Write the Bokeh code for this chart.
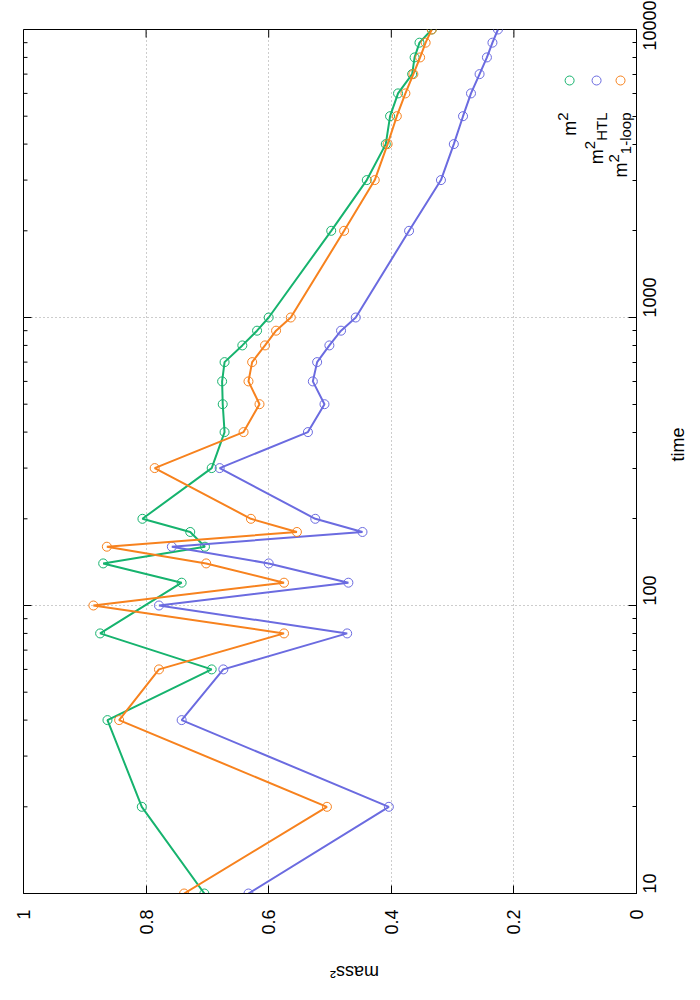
import math
from bokeh.plotting import figure
from bokeh.models import Range1d, Label, FixedTicker
from bokeh.embed import file_html
from bokeh.resources import INLINE

# ---------------- data ----------------
time_all = [10, 20, 40, 60, 80, 100, 120, 140, 160, 180, 200, 300, 400, 500, 600,
            700, 800, 900, 1000, 2000, 3000, 4000, 5000, 6000, 7000, 8000, 9000, 10000]
time_m2 = [10, 20, 40, 60, 80, 120, 140, 160, 180, 200, 300, 400, 500, 600,
           700, 800, 900, 1000, 2000, 3000, 4000, 5000, 6000, 7000, 8000, 9000, 10000]
m2 = [0.705, 0.807, 0.863, 0.693, 0.875, 0.742, 0.870, 0.704, 0.728, 0.806, 0.693,
      0.672, 0.675, 0.676, 0.672, 0.643, 0.619, 0.600, 0.498, 0.440, 0.409, 0.402,
      0.389, 0.366, 0.362, 0.354, 0.334]
m2_htl = [0.633, 0.404, 0.742, 0.674, 0.472, 0.779, 0.470, 0.600, 0.758, 0.447, 0.524,
          0.680, 0.536, 0.509, 0.528, 0.521, 0.501, 0.482, 0.458, 0.371, 0.319, 0.298,
          0.283, 0.270, 0.256, 0.244, 0.235, 0.226]
m2_1loop = [0.738, 0.505, 0.844, 0.779, 0.575, 0.886, 0.575, 0.702, 0.864, 0.554, 0.629,
            0.786, 0.641, 0.615, 0.633, 0.627, 0.606, 0.588, 0.564, 0.477, 0.427, 0.406,
            0.391, 0.377, 0.364, 0.353, 0.344, 0.334]

mass_ticks = [0, 0.2, 0.4, 0.6, 0.8, 1.0]
mass_tick_labels = ["0", "0.2", "0.4", "0.6", "0.8", "1"]
time_ticks = [10, 100, 1000, 10000]
time_tick_labels = ["10", "100", "1000", "10000"]
time_minor = [20, 30, 40, 50, 60, 70, 80, 90, 200, 300, 400, 500, 600, 700, 800, 900,
              2000, 3000, 4000, 5000, 6000, 7000, 8000, 9000]

GREEN = "#16b36e"
BLUE = "#6b6be0"
ORANGE = "#f7821e"
FONT = "Liberation Sans"
FS = "18px"

# ---------------- layout constants (canvas pixels) ----------------
W_, H_ = 700, 1000
FL, FR, FT, FB = 23, 637, 29, 893


def mx(px):
    return 1 - (px - FL) / (FR - FL)


def ty(py):
    return 10 * 10 ** ((FB - py) / ((FB - FT) / 3.0))


p = figure(width=W_, height=H_,
           x_range=Range1d(1, 0), y_range=Range1d(10, 10000),
           y_axis_type="log", y_axis_location="right", x_axis_location="below",
           output_backend="svg", toolbar_location=None,
           min_border_left=FL, min_border_right=W_ - FR,
           min_border_top=FT, min_border_bottom=H_ - FB)
p.outline_line_color = "black"
p.outline_line_width = 1
p.background_fill_color = "white"
p.border_fill_color = "white"

xt = FixedTicker(ticks=mass_ticks, minor_ticks=[])
yt = FixedTicker(ticks=time_ticks, minor_ticks=time_minor)

ax = p.xaxis[0]
ax.ticker = xt
ax.major_label_overrides = {t: l for t, l in zip(mass_ticks, mass_tick_labels)}
ax.major_label_orientation = math.pi / 2
ax.major_label_standoff = 16

ay = p.yaxis[0]
ay.ticker = yt
ay.major_label_overrides = {t: l for t, l in zip(time_ticks, time_tick_labels)}
ay.major_label_orientation = math.pi / 2
ay.major_label_standoff = 13

for a in (ax, ay):
    a.major_tick_in = 8
    a.major_tick_out = 0
    a.minor_tick_in = 4
    a.minor_tick_out = 0
    a.axis_line_color = "black"
    a.major_tick_line_color = "black"
    a.minor_tick_line_color = "black"
    a.major_label_text_font = FONT
    a.major_label_text_font_size = FS
    a.major_label_text_color = "black"
    a.axis_label_text_font = FONT
    a.axis_label_text_font_size = FS
    a.axis_label_text_font_style = "normal"
    a.axis_label_text_color = "black"

ax.axis_label = "mass²"
ax.axis_label_standoff = 34
ay.axis_label = "time"
ay.axis_label_standoff = 12
if "axis_label_orientation" in type(ax).properties():
    ax.axis_label_orientation = math.pi
    ay.axis_label_orientation = math.pi / 2

# mirrored tick marks on the top and left borders (gnuplot "mirror")
p.segment(x0=mass_ticks, y0=[10000] * len(mass_ticks), x1=mass_ticks,
          y1=[ty(FT + 8)] * len(mass_ticks), line_color="black", line_width=1)
p.segment(x0=[1] * len(time_ticks), y0=time_ticks, x1=[mx(FL + 8)] * len(time_ticks),
          y1=time_ticks, line_color="black", line_width=1)
p.segment(x0=[1] * len(time_minor), y0=time_minor, x1=[mx(FL + 4)] * len(time_minor),
          y1=time_minor, line_color="black", line_width=1)

for g, t in ((p.xgrid[0], xt), (p.ygrid[0], yt)):
    g.ticker = t
    g.grid_line_color = "#9a9a9a"
    g.grid_line_dash = "1 3"
    g.grid_line_width = 1
p.ygrid[0].minor_grid_line_color = None

series = [
    (m2, time_m2, GREEN),
    (m2_htl, time_all, BLUE),
    (m2_1loop, time_all, ORANGE),
]
for vals, tms, col in series:
    p.line(x=vals, y=tms, line_color=col, line_width=2)
    p.scatter(x=vals, y=tms, marker="circle", size=9, fill_color=None,
              line_color=col, line_width=1)

# legend (rotated): marker above text, pieces laid out upward
SUPFS = 15
legend_entries = [
    ("", GREEN, 570),
    ("HTL", BLUE, 597),
    ("1-loop", ORANGE, 621),
]
CW = {"m": 0.833, "2": 0.556, "H": 0.722, "T": 0.611, "L": 0.556, "1": 0.556,
      "-": 0.333, "l": 0.222, "o": 0.556, "p": 0.556}
for sub, col, xc in legend_entries:
    p.scatter(x=[mx(xc)], y=[ty(80)], marker="circle", size=9, fill_color=None,
              line_color=col, line_width=1)
    wm = CW["m"] * 18
    w2 = CW["2"] * SUPFS
    wsub = sum(CW[c] for c in sub) * SUPFS
    end_y = 112
    start_y = end_y + wm + w2 + wsub
    p.add_layout(Label(x=mx(xc), y=ty(start_y), text="m", angle=math.pi / 2,
                       text_align="left", text_baseline="middle",
                       text_font=FONT, text_font_size=FS, text_color="black"))
    p.add_layout(Label(x=mx(xc - 7), y=ty(start_y - wm), text="2", angle=math.pi / 2,
                       text_align="left", text_baseline="middle",
                       text_font=FONT, text_font_size=f"{SUPFS}px", text_color="black"))
    if sub:
        p.add_layout(Label(x=mx(xc + 5), y=ty(start_y - wm - w2), text=sub,
                           angle=math.pi / 2, text_align="left", text_baseline="middle",
                           text_font=FONT, text_font_size=f"{SUPFS}px", text_color="black"))

open("out.html", "w").write(file_html(p, INLINE))
